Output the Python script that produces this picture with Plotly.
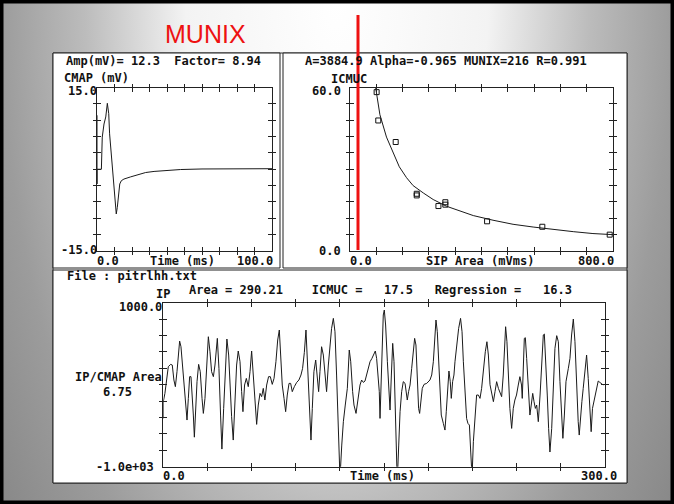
import base64
import plotly.graph_objects as go

W, H = 674, 504

# ---------------- data ----------------
cmap_time = [0, 0, 0, 2.5, 3.0, 4.0, 5.0, 5.9, 6.7, 7.2, 8.2, 8.8, 9.3, 10.1, 11.0, 11.6,
             12.2, 13.0, 13.9, 15.4, 19.2, 23.0, 27.8, 32.6, 40.2, 47.8, 60.0, 80.0, 100.0]
cmap_mv = [9.9, -2.7, 0.0, 0.0, 5.9, 8.3, 9.6, 12.1, 10.2, 6.5, 2.2, -0.3, -2.7, -5.8, -8.2, -7.0,
           -4.6, -2.7, -2.1, -1.8, -1.4, -1.0, -0.6, -0.4, -0.25, -0.05, 0.05, 0.1, 0.1]

sip_area = [81, 86, 139, 203, 203, 269, 290, 290, 417, 585, 790]
icmuc = [58.3, 47.9, 40.0, 21.0, 20.4, 16.5, 17.9, 17.0, 10.9, 8.9, 6.0]

fit_area = [78, 91, 111, 137, 150, 172, 192, 223, 253, 294, 334, 375, 435, 496, 557, 618, 679, 739, 800]
fit_icmuc = [60.0, 50.0, 41.8, 34.2, 30.9, 26.9, 24.0, 21.3, 18.9, 16.4, 14.6, 13.0, 11.3, 9.8, 8.8,
             7.9, 7.1, 6.4, 6.0]

ip_time = [
    0, 0, 1.1, 2.3, 3.4, 5.0, 6.1, 7.2, 8.2, 9.3,
    10.2, 11.1, 12.0, 13.1, 14.3, 15.4, 16.1, 17.0, 17.9, 18.8,
    19.7, 20.4, 21.1, 22.0, 22.9, 24.0, 25.1, 26.3, 27.2, 28.3,
    29.4, 30.6, 31.7, 32.8, 34.0, 35.1, 36.7, 37.8, 38.9, 39.8,
    41.0, 42.1, 43.2, 44.4, 45.3, 46.4, 47.5, 48.7, 49.8, 50.9,
    52.1, 53.2, 54.1, 55.2, 56.4, 57.7, 58.9, 60.0, 61.1, 62.3,
    63.4, 64.5, 65.7, 66.8, 67.9, 69.0, 70.2, 71.5, 72.7, 74.0,
    75.2, 76.5, 77.7, 78.8, 79.7, 80.8, 82.0, 83.1, 84.2, 85.4,
    86.5, 87.6, 89.0, 90.6, 92.1, 93.5, 94.6, 95.8, 96.9, 97.8,
    98.7, 99.6, 100.3, 101.2, 102.3, 103.5, 104.6, 105.5, 106.4, 107.5,
    108.7, 109.8, 110.9, 112.1, 113.2, 114.3, 115.5, 116.6, 117.7, 118.9,
    120.0, 121.2, 122.3, 123.6, 125.0, 126.3, 127.3, 128.6, 129.5, 130.9,
    131.8, 132.7, 133.6, 134.7, 135.9, 137.0, 138.1, 139.5, 140.4, 141.7,
    144.0, 144.9, 146.0, 146.7, 147.2, 148.3, 149.4, 150.1, 151.0, 152.2,
    153.3, 154.0, 154.9, 155.8, 156.7, 157.4, 158.0, 158.9, 159.9, 160.8,
    161.9, 163.0, 164.2, 164.8, 165.7, 166.6, 167.6, 168.7, 169.8, 170.7,
    171.6, 172.5, 173.4, 174.1, 175.0, 175.9, 177.1, 178.9, 181.1, 182.3,
    183.4, 184.5, 185.2, 186.1, 187.0, 187.9, 188.8, 190.2, 191.3, 192.2,
    193.1, 194.0, 194.9, 195.6, 196.5, 197.4, 198.1, 199.2, 200.6, 201.9,
    202.9, 203.8, 204.9, 206.0, 206.9, 207.9, 208.8, 209.7, 210.6, 211.7,
    212.8, 214.0, 215.1, 216.2, 217.4, 218.7, 219.8, 220.8, 221.9, 223.1,
    224.2, 225.3, 226.4, 227.6, 228.7, 229.8, 230.9, 231.8, 232.5, 233.4,
    234.3, 235.4, 236.6, 237.7, 238.8, 239.9, 241.1, 242.2, 243.3, 243.8,
    245.2, 245.9, 246.8, 247.9, 249.0, 249.9, 250.9, 251.8, 252.7, 253.6,
    254.7, 255.9, 257.0, 258.1, 258.8, 259.9, 260.8, 261.7, 262.6, 263.8,
    264.9, 266.0, 267.2, 268.3, 269.4, 270.5, 271.4, 272.4, 273.5, 275.1,
    276.2, 277.3, 278.5, 279.6, 280.7, 281.8, 282.5, 283.4, 284.3, 285.2,
    286.4, 287.5, 288.6, 289.7, 290.6, 291.5, 292.4, 293.3, 294.2, 295.4,
    296.5, 298.8,
]
ip_value = [
    -411, -207, -106, 98, 220, 248, 240, 57, -24, 159,
    402, 532, 463, 240, -45, -329, -431, -167, 98, 98,
    -126, -370, -640, -248, 37, 248, 159, -167, -350, -167,
    240, 585, 402, 159, 98, 240, 565, 199, -370, -785,
    -289, 199, 557, 362, -85, -390, -675, -207, 240, 411,
    281, -85, -329, -4, 77, -24, 159, 411, 159, -207,
    -484, -248, -106, -146, -45, -187, -4, 98, 98, 4,
    77, 281, 545, 667, 402, -4, -167, -329, -126, 16,
    16, -85, -24, 28, 57, 118, 199, 394, 667, 321,
    -126, -451, -675, -289, 159, 301, 57, -85, 159, 463,
    362, 77, -85, 240, 484, 687, 809, 646, 118, -492,
    -1142, -736, -451, -248, -45, 423, 280, -85, -248, -350,
    -248, -126, -4, 57, 28, 45, 118, 220, 280, 321,
    411, 321, 118, -85, -411, 280, 850, 911, 728, 280,
    -167, -309, 118, 504, 280, -248, -736, -1183, -736, -329,
    -85, 37, 16, -45, -187, -85, -4, 199, 443, 565,
    484, 118, -289, -350, -167, -45, 4, 16, 57, 118,
    280, 646, 789, 646, 321, -85, -370, -472, -553, -329,
    -4, 167, 37, -167, 37, 118, 280, 484, 687, 809,
    646, 280, -126, -411, -472, -492, -821, -1122, -695, -329,
    -126, -126, -167, -45, 199, 402, 524, 362, 0, -126,
    -207, -85, 37, -45, -106, -146, 118, 565, 707, 524,
    77, -289, -533, -289, -187, -126, -4, 98, -4, -167,
    565, 573, 321, -45, -370, -248, -106, -207, -289, -248,
    -451, -126, 280, 606, 618, 280, -126, -533, -821, -533,
    -45, 443, 598, 524, 37, -451, -654, -370, 37, 199,
    321, 606, 801, 524, -45, -451, -614, -370, -207, -45,
    199, 362, 77, -329, -573, -289, -207, -126, -45, 45,
    28, -4,
]

cmap_range = [0, 100, -15, 15]
sip_range = [0, 800, 0, 60]
ip_range = [0, 300, -1000, 1000]

# texts
title_text = "MUNIX"
left_header = "Amp(mV)= 12.3  Factor= 8.94"
right_header = "A=3884.9 Alpha=-0.965 MUNIX=216 R=0.991"
bottom_file = "File : pitrlhh.txt"
bottom_header = "Area = 290.21    ICMUC =   17.5   Regression =   16.3"

# ---------------- helpers ----------------
def PX(x):
    return x / W


def PY(y):
    return 1 - y / H


LINE = "#222222"
MONO = "DejaVu Sans Mono"

fig = go.Figure()

fig.add_trace(go.Scatter(x=cmap_time, y=cmap_mv, mode="lines",
                         line=dict(color="#1a1a1a", width=1), xaxis="x", yaxis="y",
                         showlegend=False, hoverinfo="skip"))
fig.add_trace(go.Scatter(x=fit_area, y=fit_icmuc, mode="lines",
                         line=dict(color="#1a1a1a", width=1), xaxis="x2", yaxis="y2",
                         showlegend=False, hoverinfo="skip"))
fig.add_trace(go.Scatter(x=sip_area, y=icmuc, mode="markers",
                         marker=dict(symbol="square-open", size=5, color="#111111",
                                     line=dict(width=1, color="#111111")),
                         xaxis="x2", yaxis="y2", showlegend=False, hoverinfo="skip"))
fig.add_trace(go.Scatter(x=ip_time, y=ip_value, mode="lines",
                         line=dict(color="#1a1a1a", width=1), xaxis="x3", yaxis="y3",
                         showlegend=False, hoverinfo="skip"))
for k in (4, 5, 6):
    fig.add_trace(go.Scatter(x=[], y=[], xaxis=f"x{k}", yaxis=f"y{k}", showlegend=False))


def axis(rng, dom, anchor, ticks, ticklen, overlaying=None, n=10):
    step = (rng[1] - rng[0]) / n
    d = dict(range=rng, anchor=anchor, showline=True, linecolor=LINE, linewidth=1,
             mirror="ticks", ticks=ticks, ticklen=ticklen, tickcolor=LINE, tickwidth=1,
             tickvals=[rng[0] + i * step for i in range(1, n)], showticklabels=False,
             showgrid=False, zeroline=False, fixedrange=True)
    if overlaying:
        d["overlaying"] = overlaying
    else:
        d["domain"] = dom
    return d


doms = {
    1: ([PX(97), PX(272)], [PY(251), PY(87.5)], cmap_range),
    2: ([PX(350), PX(613)], [PY(251), PY(87.5)], sip_range),
    3: ([PX(163.3), PX(605)], [PY(466.7), PY(302.7)], ip_range),
}
layout_axes = {}
for i, (dx, dy, r) in doms.items():
    xs = "xaxis" if i == 1 else f"xaxis{i}"
    ys = "yaxis" if i == 1 else f"yaxis{i}"
    xn = "x" if i == 1 else f"x{i}"
    yn = "y" if i == 1 else f"y{i}"
    layout_axes[xs] = axis(r[:2], dx, yn, "outside", 3)
    layout_axes[ys] = axis(r[2:], dy, xn, "outside", 3)
    k = i + 3
    layout_axes[f"xaxis{k}"] = axis(r[:2], dx, f"y{k}", "inside", 4, overlaying=xn)
    layout_axes[f"yaxis{k}"] = axis(r[2:], dy, f"x{k}", "inside", 4, overlaying=yn)

fig.update_layout(**layout_axes)

# ---------------- background ----------------
svg = (
    '<svg xmlns="http://www.w3.org/2000/svg" width="674" height="504" viewBox="0 0 674 504">'
    '<defs><radialGradient id="g" gradientUnits="userSpaceOnUse" cx="337" cy="0" r="420" '
    'gradientTransform="translate(337 0) scale(1 2.016) translate(-337 0)">'
    '<stop offset="0" stop-color="#ffffff"/><stop offset="0.36" stop-color="#f3f3f3"/>'
    '<stop offset="0.6" stop-color="#bcbcbc"/><stop offset="0.8" stop-color="#9c9c9c"/>'
    '<stop offset="1" stop-color="#888888"/></radialGradient></defs>'
    '<rect width="674" height="504" fill="url(#g)"/></svg>'
)
bg_src = "data:image/svg+xml;base64," + base64.b64encode(svg.encode()).decode()

shapes = []


def rect(x0, y0, x1, y1, **kw):
    shapes.append(dict(type="rect", xref="paper", yref="paper",
                       x0=PX(x0), x1=PX(x1), y0=PY(y1), y1=PY(y0), **kw))


rect(53, 53, 627, 483, fillcolor="white", line=dict(color="#333333", width=1), layer="below")
rect(53, 53, 280, 268, fillcolor="white", line=dict(color=LINE, width=1), layer="below")
rect(283, 53, 627, 268, fillcolor="white", line=dict(color=LINE, width=1), layer="below")
rect(53, 270, 627, 483, fillcolor="white", line=dict(color=LINE, width=1), layer="below")
rect(0, 0, 674, 504, line=dict(color="#000000", width=7), layer="above")
shapes.append(dict(type="line", xref="paper", yref="paper", x0=PX(358), x1=PX(358),
                   y0=PY(250), y1=PY(15), line=dict(color="#ee1111", width=3), layer="above"))

# ---------------- text ----------------
annotations = []


def txt(s, x, y, anchor="left", size=12, color="#111111", family=MONO, weight="bold"):
    annotations.append(dict(text=s.replace(" ", "\u00a0"), xref="paper", yref="paper",
                            x=PX(x), y=PY(y), xanchor=anchor, yanchor="middle",
                            showarrow=False, borderpad=0, borderwidth=0,
                            font=dict(family=family, size=size, color=color, weight=weight)))


txt(title_text, 205, 34, anchor="center", size=25, color="#ee1111",
    family="Liberation Sans, Arial", weight="normal")

# left panel
txt(left_header, 66, 61)
txt("CMAP (mV)", 64, 78)
txt("15.0", 97, 90.5, anchor="right")
txt("-15.0", 97, 250, anchor="right")
txt("0.0", 97, 261)
txt("Time (ms)", 182, 261, anchor="center")
txt("100.0", 273, 261, anchor="right")

# right panel
txt(right_header, 305, 61)
txt("ICMUC", 331, 79)
txt("60.0", 341, 90.5, anchor="right")
txt("0.0", 341, 250.5, anchor="right")
txt("0.0", 350, 261)
txt("SIP Area (mVms)", 480, 261, anchor="center")
txt("800.0", 614, 261, anchor="right")

# bottom panel
txt(bottom_file, 67, 276)
txt("IP", 156, 294)
txt(bottom_header, 189, 290)
txt("1000.0", 162, 306.5, anchor="right")
txt("IP/CMAP Area", 75, 376.5)
txt("6.75", 103, 391.5)
txt("-1.0e+03", 154, 466.5, anchor="right")
txt("0.0", 163, 475.5)
txt("Time (ms)", 382, 475.5, anchor="center")
txt("300.0", 617, 475.5, anchor="right")

fig.update_layout(
    width=W, height=H,
    margin=dict(l=0, r=0, t=0, b=0),
    paper_bgcolor="#9a9a9a",
    plot_bgcolor="rgba(0,0,0,0)",
    images=[dict(source=bg_src, xref="paper", yref="paper", x=0, y=1, sizex=1, sizey=1,
                 xanchor="left", yanchor="top", sizing="stretch", layer="below")],
    shapes=shapes,
    annotations=annotations,
    showlegend=False,
)

fig.write_html("out.html", config={"displayModeBar": False})
